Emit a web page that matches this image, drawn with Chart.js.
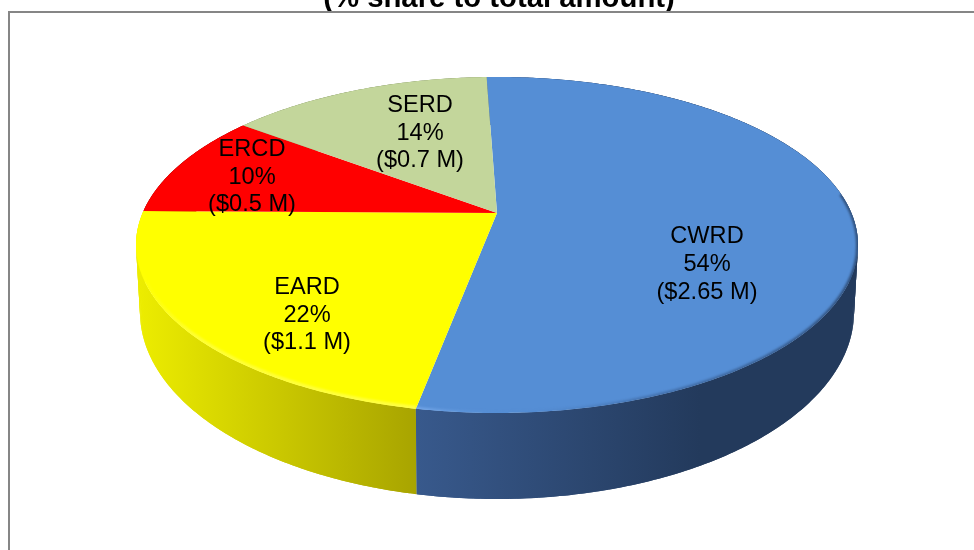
<!DOCTYPE html>
<html>
<head>
<meta charset="utf-8">
<title>Share to total amount</title>
<script src="https://cdn.jsdelivr.net/npm/chart.js@4"></script>
<style>
    html, body { margin: 0; padding: 0; background: #fff; overflow: hidden; }
    canvas { display: block; }
</style>
</head>
<body>
<canvas id="chart" width="974" height="550"></canvas>
<script>
const categories = ["CWRD", "EARD", "ERCD", "SERD"];
const amounts = [2.65, 1.1, 0.5, 0.7];

const topColors = ["#558ed5", "#ffff00", "#ff0000", "#c3d69b"];
const wallColors = [
    ["#38598c", "#233a5c"],
    ["#ecec00", "#a8a400"],
    ["#a00000", "#a00000"],
    ["#8a9a6c", "#8a9a6c"]
];
const wallRanges = [[417, 700], [140, 417], [140, 250], [250, 490]];
// centre of each three line label
const labelCenters = [[707, 264.5], [307, 315], [252, 177], [420, 133]];

// the pie is a circle seen in perspective, so the apex sits above the ellipse centre
const topRim = {cx: 497, cy: 245, rx: 361, ry: 168, k: 0.19};
const bottomRim = {cx: 497, cy: 312, rx: 357, ry: 187, k: 0.19};

function project(rim, angle, r) {
    const x = Math.cos(angle) * r;
    const y = Math.sin(angle) * r;
    const q = Math.sqrt(1 - rim.k * rim.k);
    const w = 1 - rim.k * y;
    return [
        rim.cx + rim.rx * q * x / w,
        rim.cy - rim.k * rim.ry + rim.ry * q * q * y / w
    ];
}

function traceRim(ctx, rim, from, to) {
    const steps = Math.max(2, Math.ceil(Math.abs(to - from) * 90));
    for (let i = 0; i <= steps; i++) {
        const p = project(rim, from + (to - from) * i / steps, 1);
        ctx.lineTo(p[0], p[1]);
    }
}

function traceFace(ctx, arc) {
    const apex = project(topRim, 0, 0);
    ctx.beginPath();
    ctx.moveTo(apex[0], apex[1]);
    traceRim(ctx, topRim, arc.startAngle, arc.endAngle);
    ctx.closePath();
}

// swept in overlapping strips so the straight side edges of the silhouette get filled, without seams
function fillWall(ctx, arc, paint) {
    const span = arc.endAngle - arc.startAngle;
    const steps = Math.ceil(span * 60);
    ctx.fillStyle = paint;
    for (let i = 0; i < steps; i++) {
        const a = arc.startAngle + span * i / steps;
        const b = arc.startAngle + span * Math.min(i + 2, steps) / steps;
        ctx.beginPath();
        traceRim(ctx, topRim, a, b);
        traceRim(ctx, bottomRim, b, a);
        ctx.closePath();
        ctx.fill();
    }
}

function strokeBevel(ctx, arc, from, to, paint, width) {
    const a = Math.max(arc.startAngle, from);
    const b = Math.min(arc.endAngle, to);
    if (a >= b) return;
    ctx.save();
    traceFace(ctx, arc);
    ctx.clip();
    ctx.beginPath();
    traceRim(ctx, topRim, a, b);
    ctx.strokeStyle = paint;
    ctx.lineWidth = width;
    ctx.filter = "blur(1.2px)";
    ctx.stroke();
    ctx.restore();
}

const framePlugin = {
    id: "frame",
    beforeDatasetsDraw(chart) {
        const ctx = chart.ctx;
        ctx.save();
        ctx.fillStyle = "#ffffff";
        ctx.fillRect(0, 11, 974, 539);
        ctx.fillStyle = "#868686";
        ctx.fillRect(8, 11, 966, 2);
        ctx.fillRect(8, 11, 2, 539);
        ctx.restore();
    }
};

const pie3dPlugin = {
    id: "pie3d",
    beforeDatasetDraw(chart, args) {
        const ctx = chart.ctx;
        const arcs = args.meta.data;
        ctx.save();

        // side walls, the back ones end up under the top faces
        [2, 3, 1, 0].forEach(i => {
            const gradient = ctx.createLinearGradient(wallRanges[i][0], 0, wallRanges[i][1], 0);
            gradient.addColorStop(0, wallColors[i][0]);
            gradient.addColorStop(1, wallColors[i][1]);
            fillWall(ctx, arcs[i], gradient);
        });

        arcs.forEach(arc => {
            traceFace(ctx, arc);
            ctx.fillStyle = arc.options.backgroundColor;
            ctx.fill();
        });

        // rim highlight on the front of the yellow and blue slices
        const blueEdge = ctx.createLinearGradient(417, 0, 860, 0);
        blueEdge.addColorStop(0, "rgba(120,170,235,0.9)");
        blueEdge.addColorStop(0.2, "rgba(85,142,213,0.1)");
        blueEdge.addColorStop(0.5, "rgba(50,85,135,0.45)");
        blueEdge.addColorStop(1, "rgba(35,58,92,0.75)");
        strokeBevel(ctx, arcs[0], -0.12, Math.PI, blueEdge, 4);

        const yellowEdge = ctx.createLinearGradient(140, 0, 417, 0);
        yellowEdge.addColorStop(0, "rgba(255,255,110,0)");
        yellowEdge.addColorStop(0.2, "rgba(255,255,110,0.45)");
        yellowEdge.addColorStop(1, "rgba(255,255,110,0.6)");
        strokeBevel(ctx, arcs[1], 0, Math.PI, yellowEdge, 6);

        ctx.restore();
        return false;
    },
    afterDatasetsDraw(chart) {
        const ctx = chart.ctx;
        const total = amounts.reduce((a, b) => a + b, 0);
        ctx.save();
        ctx.fillStyle = "#000000";
        ctx.font = "23.6px 'Liberation Sans', Arial, sans-serif";
        ctx.textAlign = "center";
        ctx.textBaseline = "middle";
        categories.forEach((name, i) => {
            const lines = [name, Math.round(amounts[i] / total * 100) + "%", "($" + amounts[i] + " M)"];
            lines.forEach((line, j) => {
                ctx.fillText(line, labelCenters[i][0], labelCenters[i][1] + (j - 1) * 27.7);
            });
        });
        ctx.restore();
    }
};

new Chart(document.getElementById("chart"), {
    type: "pie",
    data: {
        labels: categories,
        datasets: [{data: amounts, backgroundColor: topColors, borderWidth: 0}]
    },
    options: {
        responsive: false,
        animation: false,
        rotation: -2,
        layout: {padding: {left: 24}},
        plugins: {
            legend: {display: false},
            tooltip: {enabled: false},
            title: {
                display: true,
                text: "(% share to total amount)",
                color: "#000000",
                font: {family: "'Liberation Sans', Arial, sans-serif", size: 29.3, weight: "bold"},
                padding: {top: -19, bottom: 0}
            }
        }
    },
    plugins: [framePlugin, pie3dPlugin]
});
</script>
</body>
</html>
